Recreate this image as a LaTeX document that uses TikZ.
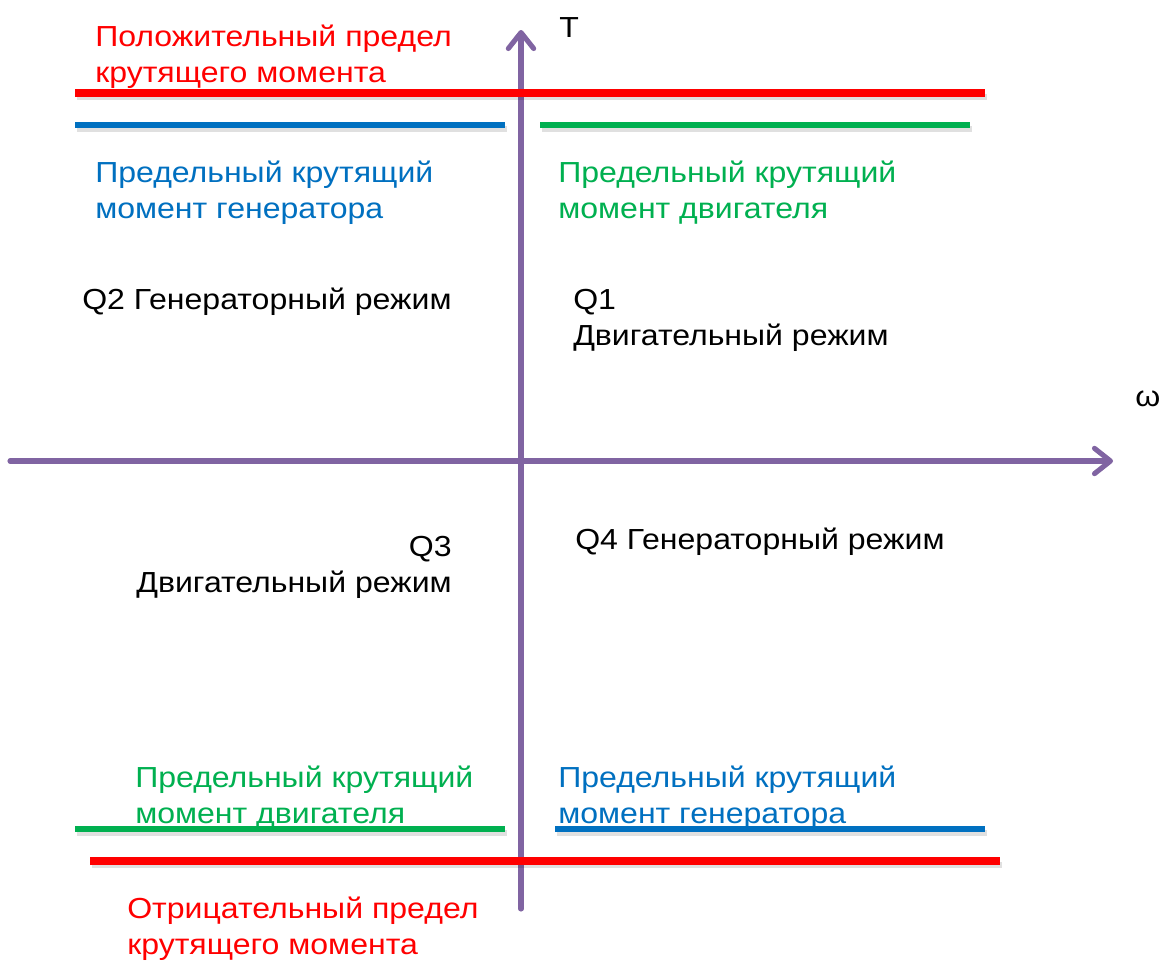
\documentclass[tikz,border=0pt]{standalone}
\usepackage{fontspec}
\setmainfont[FakeStretch=1.105]{Liberation Sans}
\usetikzlibrary{arrows.meta}
\definecolor{axispurple}{HTML}{8064A2}
\definecolor{limred}{HTML}{FF0000}
\definecolor{genblue}{HTML}{0070C0}
\definecolor{motgreen}{HTML}{00B050}
\tikzset{
  axisline/.style={draw=axispurple, line width=3.8pt, line cap=round,
    -{Straight Barb[length=12pt,width=19pt,round,line width=3.8pt]}},
  limline/.style={line width=5.5pt},
  modeline/.style={line width=3.8pt},
  shadowline/.style={draw=black, opacity=0.12, line width=5pt},
  lbl/.style={inner sep=0pt, anchor=base west, align=left,
    font=\fontsize{21.75}{27}\selectfont},
}
\begin{document}
\begin{tikzpicture}[x=0.75pt,y=-0.75pt]
\useasboundingbox[fill=white] (0,0) rectangle (1159,960);
% axes
\coordinate (tbot) at (521,909);
\coordinate (ttop) at (521,30);
\coordinate (wleft) at (10,461);
\coordinate (wright) at (1113,461);
\draw[axisline] (tbot) -- (ttop);
\draw[axisline] (wleft) -- (wright);
% limit lines
\coordinate (r1a) at (75,93);   \coordinate (r1b) at (985,93);
\coordinate (b1a) at (75,125);  \coordinate (b1b) at (505,125);
\coordinate (g1a) at (540,125); \coordinate (g1b) at (970,125);
\coordinate (g2a) at (75,829);  \coordinate (g2b) at (505,829);
\coordinate (b2a) at (555,829); \coordinate (b2b) at (985,829);
\coordinate (r2a) at (90,861);  \coordinate (r2b) at (1000,861);
\foreach \a/\b in {r1a/r1b,b1a/b1b,g1a/g1b,g2a/g2b,b2a/b2b,r2a/r2b}
  \draw[shadowline] ([shift={(2,4)}]\a) -- ([shift={(2,4)}]\b);
\draw[limline, limred] (r1a) -- (r1b);
\draw[modeline, genblue] (b1a) -- (b1b);
\draw[modeline, motgreen] (g1a) -- (g1b);
\draw[modeline, motgreen] (g2a) -- (g2b);
\draw[modeline, genblue] (b2a) -- (b2b);
\draw[limline, limred] (r2a) -- (r2b);
% labels (anchor = baseline of the last line)
\node[lbl, text=limred] (poslim) at (95,82) {Положительный предел\\крутящего момента};
\node[lbl, text=genblue] (gen1) at (95,218) {Предельный крутящий\\момент генератора};
\node[lbl, text=motgreen] (mot1) at (558,218) {Предельный крутящий\\момент двигателя};
\node[lbl] (q2) at (82,309) {Q2 Генераторный режим};
\node[lbl] (q1) at (573,345) {Q1\\Двигательный режим};
\node[lbl, anchor=base east, align=right] (q3) at (452,592) {Q3\\Двигательный режим};
\node[lbl] (q4) at (575,549) {Q4 Генераторный режим};
\node[lbl, text=motgreen] (mot2) at (135,823) {Предельный крутящий\\момент двигателя};
\node[lbl, text=genblue] (gen2) at (558,823) {Предельный крутящий\\момент генератора};
\node[lbl, text=limred] (neglim) at (127,954) {Отрицательный предел\\крутящего момента};
\node[lbl] (tlab) at (559,37) {T};
\node[lbl] (wlab) at (1135,406) {ω};
\end{tikzpicture}
\end{document}
